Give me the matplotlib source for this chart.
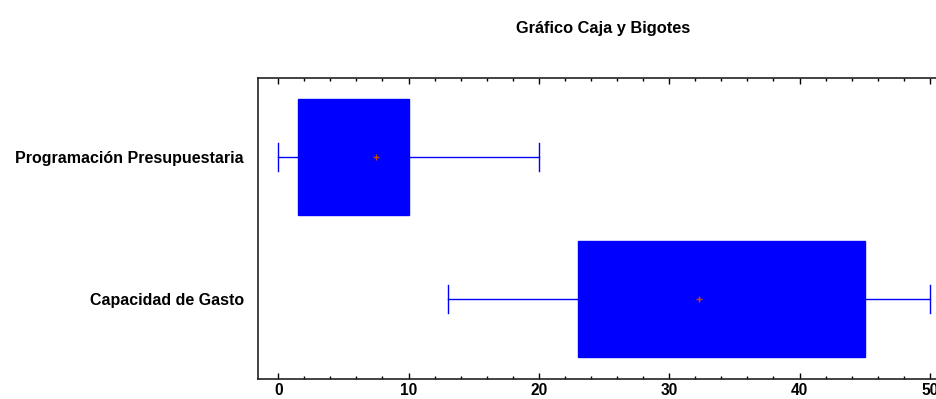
import matplotlib.pyplot as plt

plt.rcParams['font.family'] = ['Liberation Sans', 'DejaVu Sans']

categories = ['Capacidad de Gasto', 'Programación Presupuestaria']
whis_lo = [13.0, 0.0]
q1 = [23.0, 1.5]
median = [34.0, 5.0]
q3 = [45.0, 10.0]
whis_hi = [50.0, 20.0]
means = [32.3, 7.5]

stats = []
for i in range(len(categories)):
    stats.append({'label': categories[i], 'whislo': whis_lo[i], 'q1': q1[i],
                  'med': median[i], 'q3': q3[i], 'whishi': whis_hi[i],
                  'mean': means[i], 'fliers': []})

fig = plt.figure(figsize=(9.37, 3.99), dpi=100)
ax = fig.add_axes([258 / 937, 1 - 379 / 399, 1 - 258 / 937, (379 - 78) / 399])

blue = '#0000ff'
ax.bxp(stats, positions=[0, 1], vert=False, widths=0.81, patch_artist=True,
       showmeans=True, showfliers=False,
       boxprops=dict(facecolor=blue, edgecolor=blue, linewidth=1),
       medianprops=dict(color=blue, linewidth=0),
       whiskerprops=dict(color=blue, linewidth=1),
       capprops=dict(color=blue, linewidth=1),
       capwidths=0.2,
       meanprops=dict(marker='+', markeredgecolor='#c04a10', markersize=5,
                      markeredgewidth=1))

ax.set_xlim(-1.55, 50.55)
ax.set_ylim(-0.563, 1.556)
ax.set_xticks([0, 10, 20, 30, 40, 50])
ax.set_xticks(range(0, 51, 2), minor=True)
ax.tick_params(axis='x', which='both', direction='in', top=True, bottom=True,
               labelsize=11.2, pad=3)
ax.tick_params(axis='x', which='major', length=4, width=1)
ax.tick_params(axis='x', which='minor', length=2, width=1)
ax.tick_params(axis='y', length=0, labelsize=11.5, pad=10)
for lab in ax.get_xticklabels() + ax.get_yticklabels():
    lab.set_fontweight('bold')
ax.spines['right'].set_visible(False)
for s in ['left', 'top', 'bottom']:
    ax.spines[s].set_linewidth(1.2)
    ax.spines[s].set_color('#222222')

fig.text(603 / 937, 1 - 28 / 399, 'Gráfico Caja y Bigotes', ha='center',
         va='center', fontsize=11.8, fontweight='bold')

fig.savefig('out.png', dpi=100)
